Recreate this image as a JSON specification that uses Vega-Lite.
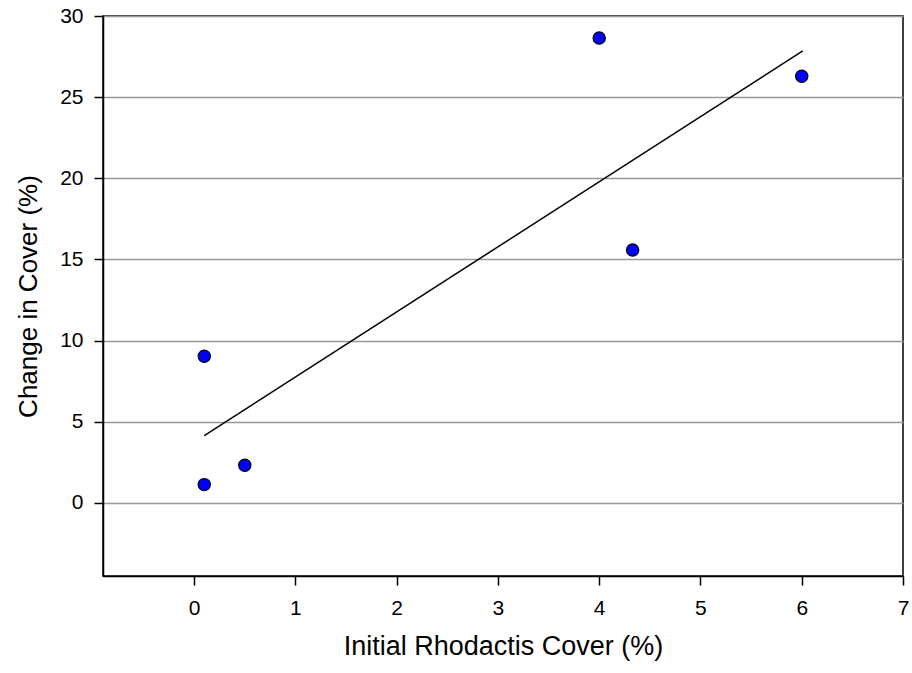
{
  "$schema": "https://vega.github.io/schema/vega-lite/v6.json",
  "width": 800,
  "height": 560,
  "autosize": {"type": "none"},
  "padding": {"left": 103, "top": 16, "right": 9, "bottom": 97},
  "background": "white",
  "config": {
    "font": "Liberation Sans",
    "view": {"stroke": "black", "strokeWidth": 1.5}
  },
  "datasets": {
    "points": [
      {"initial": 0.1, "change": 1.13},
      {"initial": 0.1, "change": 9.04},
      {"initial": 0.5, "change": 2.32},
      {"initial": 4.0, "change": 28.64},
      {"initial": 4.33, "change": 15.58},
      {"initial": 6.0, "change": 26.29}
    ],
    "fit": [
      {"initial": 0.1, "change": 4.15},
      {"initial": 6.01, "change": 27.85}
    ]
  },
  "encoding": {
    "x": {
      "field": "initial",
      "type": "quantitative",
      "scale": {"domain": [-0.9, 7], "nice": false, "zero": false},
      "axis": {
        "title": "Initial Rhodactis Cover (%)",
        "values": [0, 1, 2, 3, 4, 5, 6, 7],
        "format": "d",
        "grid": false,
        "labelFlush": false,
        "domainColor": "black",
        "domainWidth": 1.5,
        "tickColor": "black",
        "tickWidth": 1.5,
        "tickSize": 9,
        "labelFont": "Liberation Sans",
        "labelFontSize": 21,
        "labelColor": "black",
        "labelPadding": 12,
        "titleFont": "Liberation Sans",
        "titleFontSize": 27,
        "titleFontWeight": "normal",
        "titleColor": "black",
        "titlePadding": 15
      }
    },
    "y": {
      "field": "change",
      "type": "quantitative",
      "scale": {"domain": [-4.5, 30], "nice": false, "zero": false},
      "axis": {
        "title": "Change in Cover (%)",
        "values": [0, 5, 10, 15, 20, 25, 30],
        "format": "d",
        "grid": true,
        "labelFlush": false,
        "gridColor": "#999999",
        "gridWidth": 1.5,
        "gridOpacity": 1,
        "domainColor": "black",
        "domainWidth": 1.5,
        "tickColor": "black",
        "tickWidth": 1.5,
        "tickSize": 9,
        "labelFont": "Liberation Sans",
        "labelFontSize": 21,
        "labelColor": "black",
        "labelPadding": 11,
        "titleFont": "Liberation Sans",
        "titleFontSize": 26,
        "titleFontWeight": "normal",
        "titleColor": "black",
        "titlePadding": 18
      }
    }
  },
  "layer": [
    {
      "data": {"name": "fit"},
      "mark": {"type": "line", "color": "black", "strokeWidth": 1.5}
    },
    {
      "data": {"name": "points"},
      "mark": {"type": "point", "shape": "circle", "filled": true, "fill": "#0000FF", "stroke": "black", "strokeWidth": 1.2, "size": 150, "opacity": 1}
    }
  ]
}
